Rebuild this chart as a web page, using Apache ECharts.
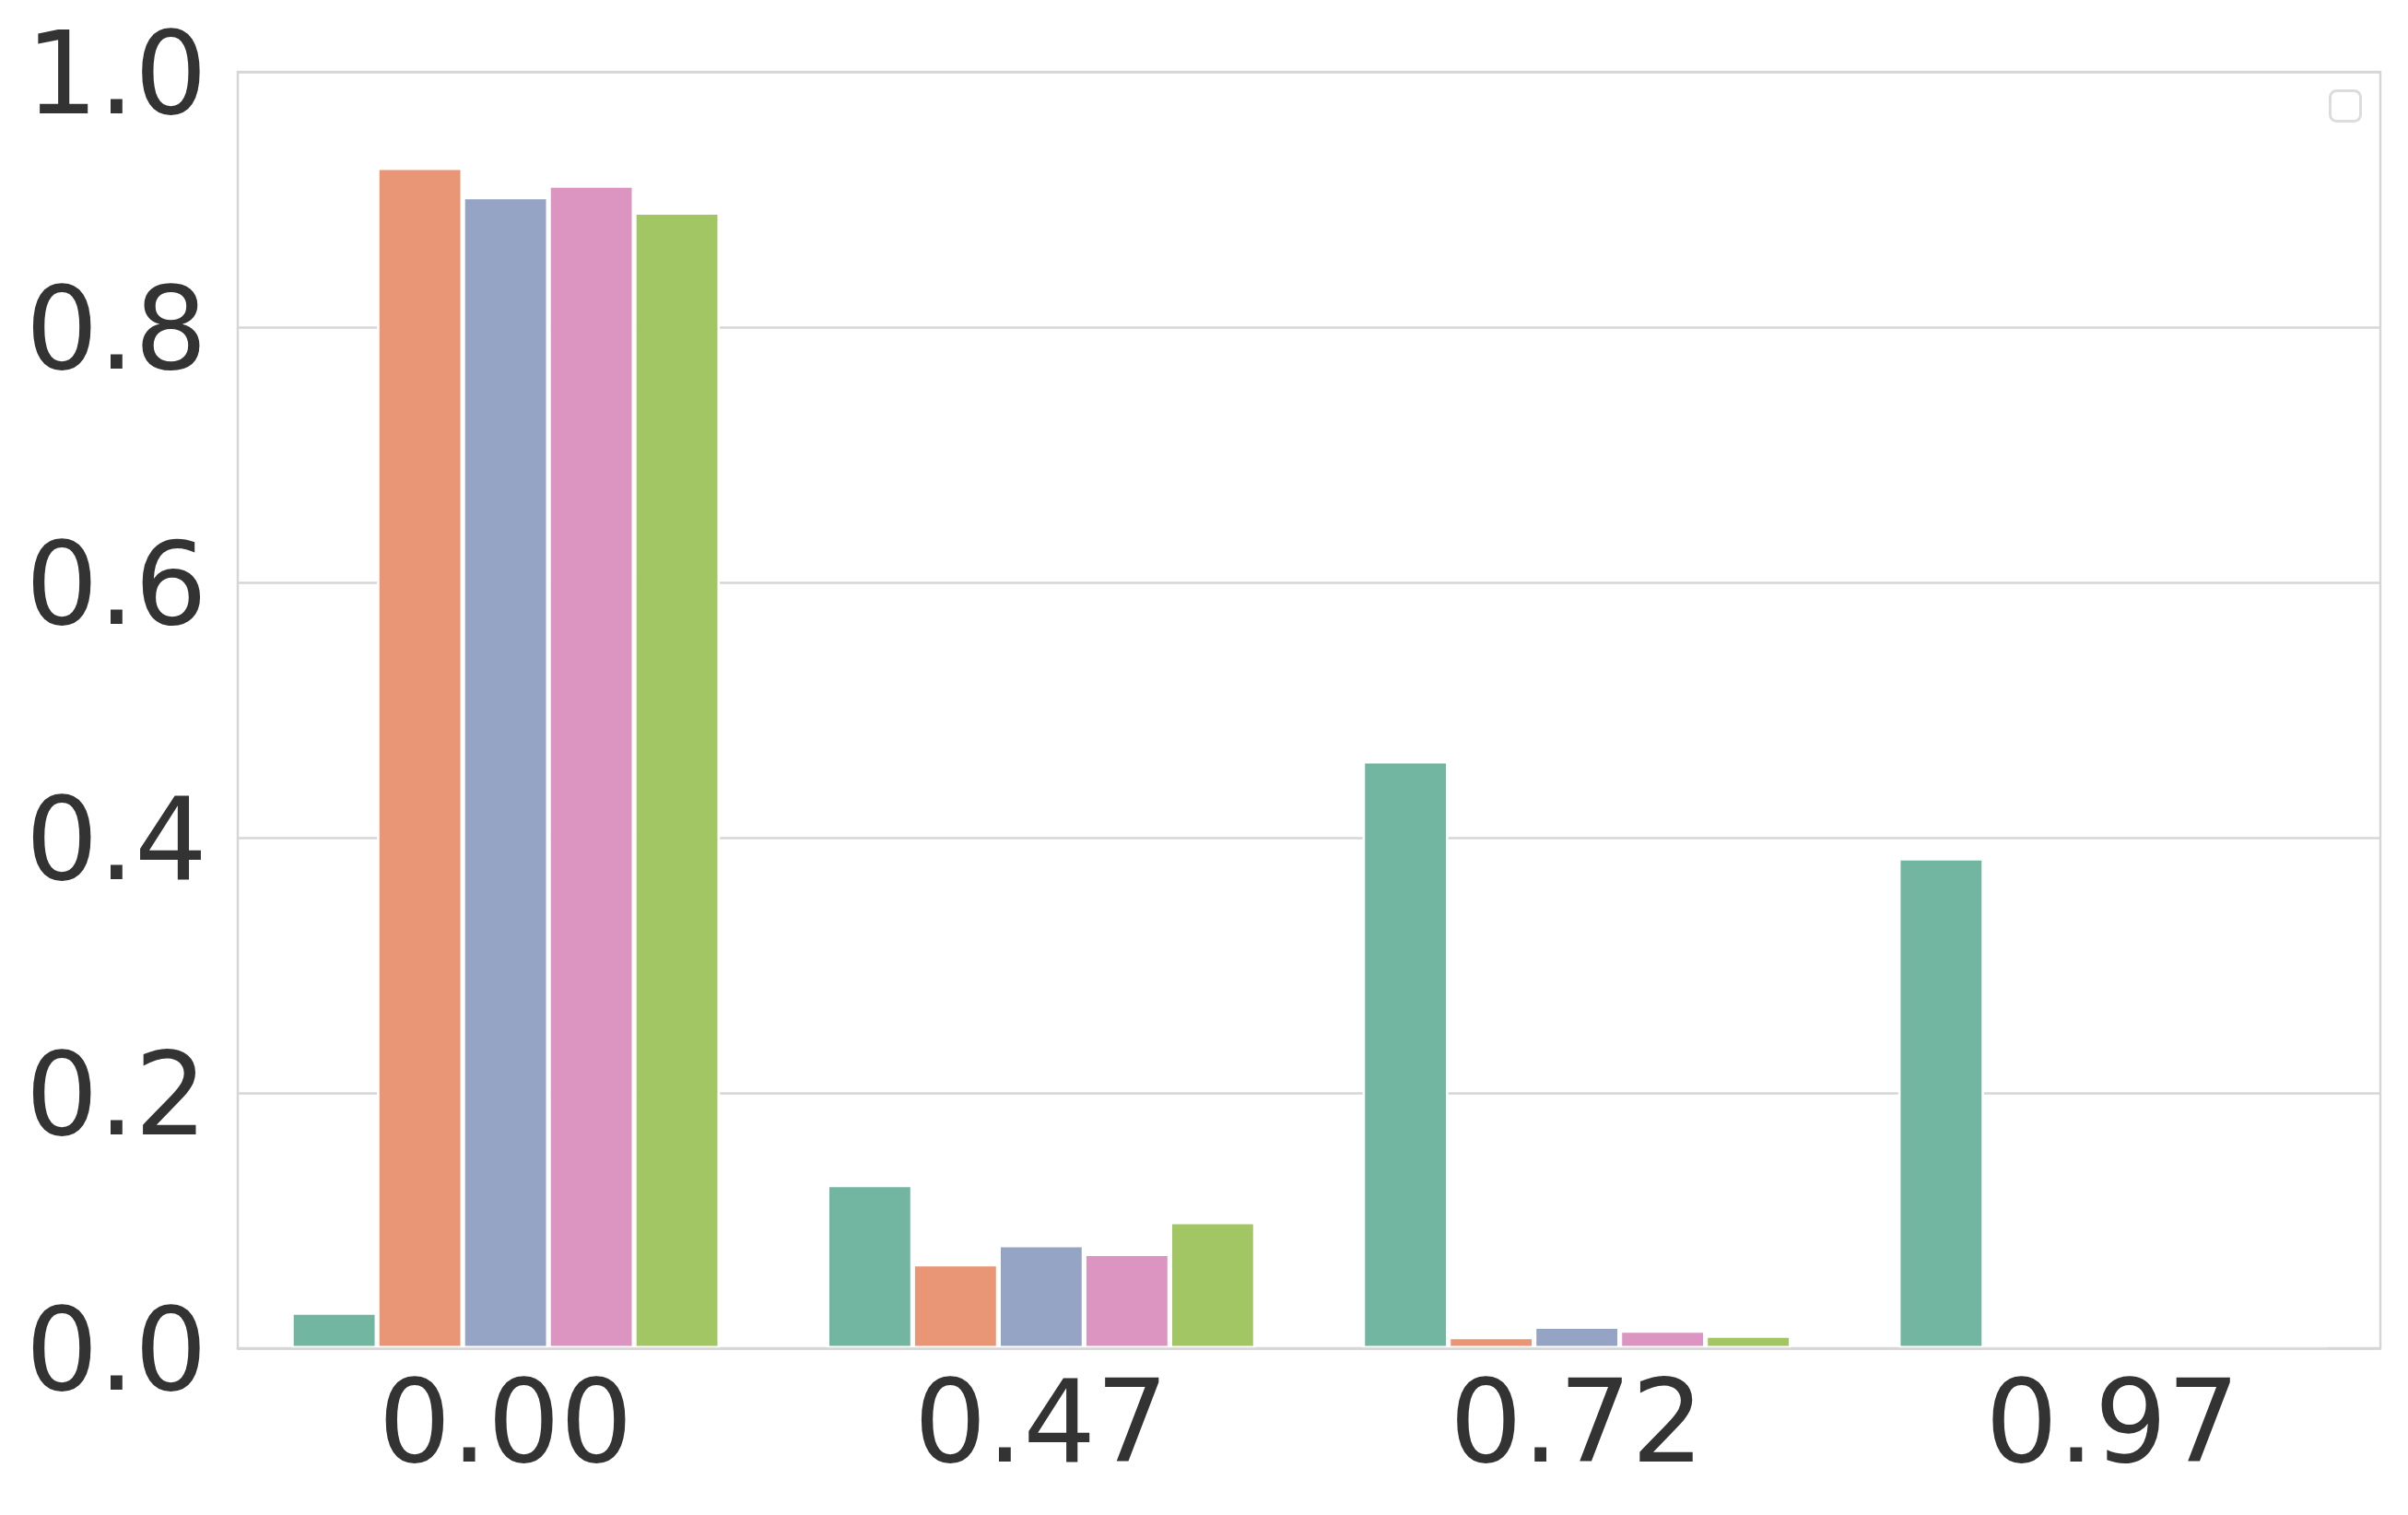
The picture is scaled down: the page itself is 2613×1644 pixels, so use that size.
<!DOCTYPE html>
<html>
<head>
<meta charset="utf-8">
<script src="https://cdn.jsdelivr.net/npm/echarts@6/dist/echarts.min.js"></script>
<style>
html,body{margin:0;padding:0;background:#fff;}
#chart{width:2613px;height:1644px;}
</style>
</head>
<body>
<div id="chart"></div>
<script>
const categories = ['0.00', '0.47', '0.72', '0.97'];
const seriesA = [0.028, 0.128, 0.460, 0.384];
const seriesB = [0.925, 0.066, 0.009, 0];
const seriesC = [0.902, 0.081, 0.017, 0];
const seriesD = [0.911, 0.074, 0.014, 0];
const seriesE = [0.890, 0.099, 0.010, 0];
const seriesNames = ['A', 'B', 'C', 'D', 'E'];
const colors = ['#72b6a1', '#e89676', '#95a4c4', '#db95c0', '#a3c664'];
const yTicks = [0, 0.2, 0.4, 0.6, 0.8, 1.0];

const allData = [seriesA, seriesB, seriesC, seriesD, seriesE];
const chart = echarts.init(document.getElementById('chart'), null, {renderer: 'canvas'});
const font = 'DejaVu Sans';
const gridCol = '#d6d6d6';

chart.setOption({
  animation: false,
  backgroundColor: '#ffffff',
  grid: {left: 258, right: 30, top: 78, bottom: 181, show: true, borderColor: gridCol, borderWidth: 2.5, backgroundColor: 'transparent'},
  xAxis: {
    type: 'category', data: categories, z: 10,
    axisLine: {show: true, lineStyle: {color: gridCol, width: 2.5}},
    axisTick: {show: false},
    axisLabel: {fontFamily: font, fontSize: 124, color: '#333333', margin: 29},
    splitLine: {show: false}
  },
  yAxis: {
    type: 'value', min: 0, max: 1, interval: 0.2,
    axisLine: {show: false}, axisTick: {show: false},
    axisLabel: {fontFamily: font, fontSize: 124, color: '#333333', margin: 33,
      verticalAlign: 'top', lineHeight: 26,
      formatter: v => v.toFixed(1)},
    splitLine: {show: true, lineStyle: {color: gridCol, width: 2.5}}
  },
  graphic: [{
    type: 'rect', right: 50, top: 97,
    shape: {width: 33, height: 33, r: 7},
    style: {fill: '#ffffff', stroke: '#dcdcdc', lineWidth: 3}, z: 20
  }],
  series: allData.map((d, i) => ({
    name: seriesNames[i], type: 'bar', data: d,
    barGap: '0%', barCategoryGap: '20%',
    itemStyle: {color: colors[i], borderColor: '#ffffff', borderWidth: 2.6}
  }))
});
</script>
</body>
</html>
